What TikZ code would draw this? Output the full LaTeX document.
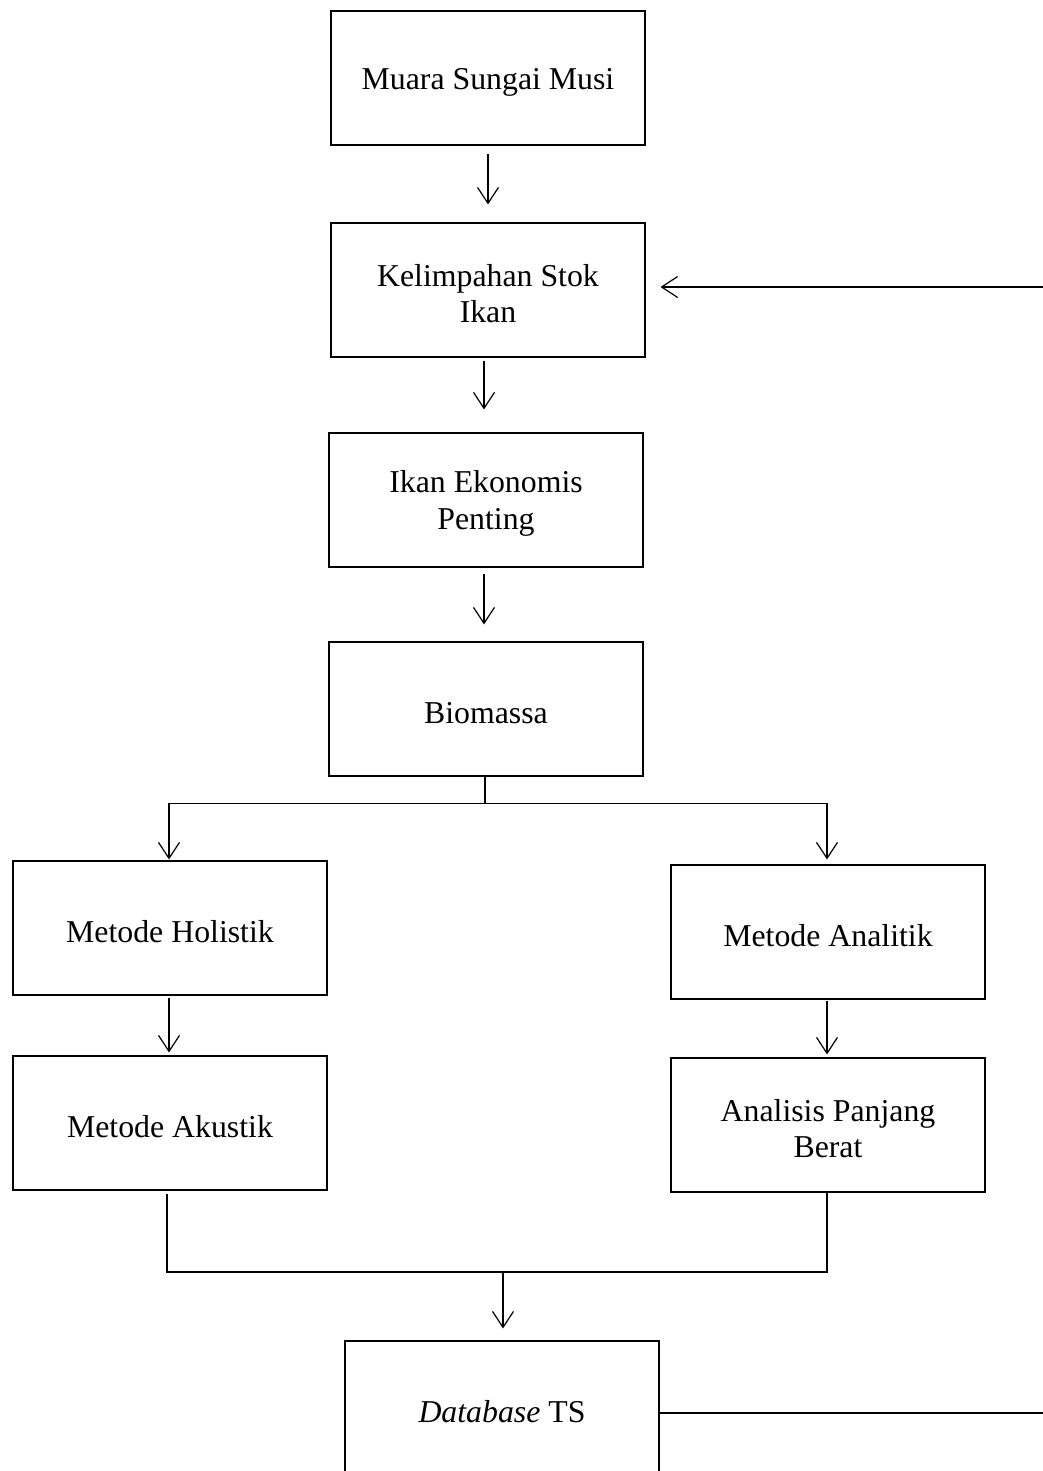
\documentclass[tikz,border=0pt]{standalone}
\usepackage{fontspec}
\setmainfont{Liberation Serif}
\usetikzlibrary{arrows.meta,calc}
\newcommand{\tstrut}{\rule{0pt}{29pt}}
\begin{document}
\begin{tikzpicture}[x=1pt,y=-1pt,
  box/.style={draw, line width=1.1pt, minimum width=314pt, minimum height=134pt, inner sep=0pt, align=center, font=\fontsize{31.8}{36.5}\selectfont},
  conn/.style={line width=1.2pt},
  arr/.style={conn, -{Straight Barb[length=16pt,width=21pt,line width=1.2pt]}}]
\clip (0,0) rectangle (1043,1471);
\fill[white] (0,0) rectangle (1043,1471);
\node[box] (m)  at (488,78)   {\tstrut Muara Sungai Musi};
\node[box] (k)  at (488,290)  {\tstrut Kelimpahan Stok\\Ikan};
\node[box] (ie) at (486,500)  {\tstrut Ikan Ekonomis\\Penting};
\node[box] (b)  at (486,709)  {\tstrut Biomassa};
\node[box] (mh) at (170,928)  {\tstrut Metode Holistik};
\node[box] (ma) at (828,932)  {\tstrut Metode Analitik};
\node[box] (ak) at (170,1123) {\tstrut Metode Akustik};
\node[box] (an) at (828,1125) {\tstrut Analisis Panjang\\Berat};
\node[box] (db) at (502,1408) {\tstrut\textit{Database} TS};
\draw[arr, shorten <=8pt, shorten >=18pt] (m.south) -- (k.north);
\draw[arr, shorten <=3pt, shorten >=23pt] ([xshift=-4pt]k.south) -- ([xshift=-2pt]ie.north);
\draw[arr, shorten <=6pt, shorten >=17pt] ([xshift=-2pt]ie.south) -- ([xshift=-2pt]b.north);
\draw[conn] ([xshift=-1pt]b.south) -- ++(0,27) coordinate (bj);
\draw[arr, shorten >=1pt] (bj) -| ([xshift=-1pt]mh.north);
\draw[arr, shorten >=5pt] (bj) -| ([xshift=-1pt]ma.north);
\draw[arr, shorten <=2pt, shorten >=3pt] ([xshift=-1pt]mh.south) -- ([xshift=-1pt]ak.north);
\draw[arr, shorten <=1pt, shorten >=3pt] ([xshift=-1pt]ma.south) -- ([xshift=-1pt]an.north);
\coordinate (j2) at (503,1272);
\draw[conn] ([xshift=-3pt,yshift=-3pt]ak.south) |- (j2) -| ([xshift=-1pt]an.south);
\draw[arr, shorten >=12pt] (j2) -- (db.north -| j2);
\coordinate (re) at (1043,1413);
\draw[conn] (db.east |- re) -- (re);
\coordinate (rt) at (1043,287);
\draw[arr, shorten >=15pt] (rt) -- (k.east |- rt);
\end{tikzpicture}
\end{document}
